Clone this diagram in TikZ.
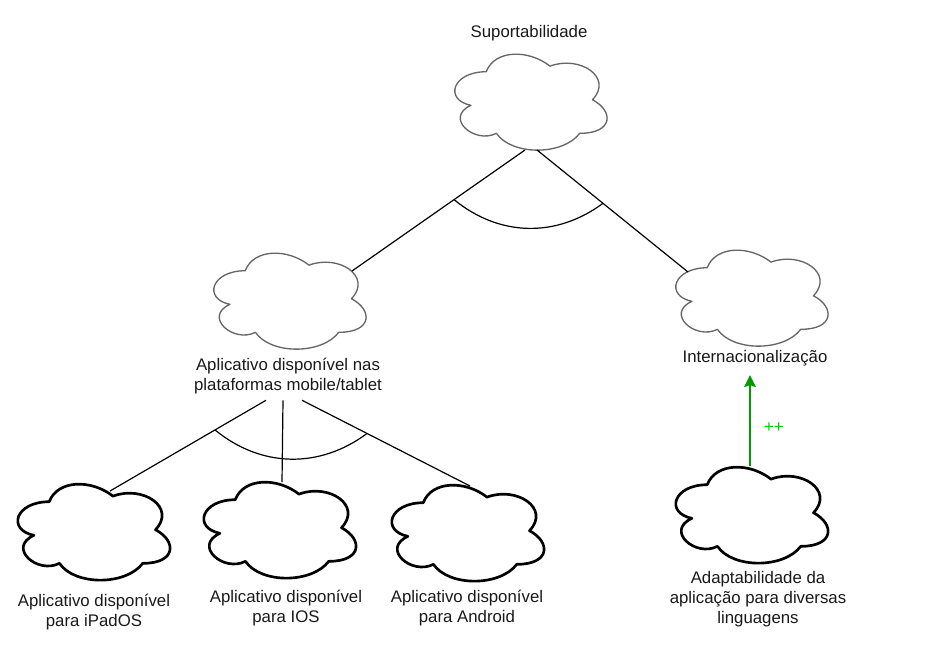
\documentclass[tikz,border=0pt]{standalone}
\usepackage{fontspec}
\setmainfont{Liberation Sans}
\usepackage{xcolor}
\usepackage{tikz}
\usetikzlibrary{arrows.meta,positioning,calc}
\definecolor{contrib}{HTML}{009900}
\definecolor{contribtxt}{HTML}{00CC00}
\tikzstyle{goal}=[rectangle, minimum width=127.5pt, minimum height=84pt, inner sep=0pt]
\tikzstyle{lbl}=[align=center, inner sep=0pt, font=\fontsize{12.6}{15.1}\selectfont, text=black!90]
\tikzstyle{link}=[line width=0.9pt, black]
\tikzstyle{softcloud}=[draw=black!60, line width=1pt, line join=round]
\tikzstyle{hardcloud}=[draw=black, line width=2pt, line join=round]

\begin{document}
\begin{tikzpicture}[x=0.75pt, y=-0.75pt]
\useasboundingbox (0,0) rectangle (935,664);

% softgoals
\node[goal] (top) at (529,100) {};
\node[goal] (mob) at (288,299) {};
\node[goal] (int) at (750,296) {};
\node[goal] (ipad) at (92,530) {};
\node[goal] (ios) at (278,528) {};
\node[goal] (andr) at (466,531) {};
\node[goal] (adapt) at (750,513) {};

% cloud outlines
\foreach \n/\s in {top/softcloud, mob/softcloud, int/softcloud,
                   ipad/hardcloud, ios/hardcloud, andr/hardcloud, adapt/hardcloud} {
  \draw[\s, shift={(\n.north west)}, x=127.5pt, y=-84pt]
    (0.25,0.25) .. controls (0.05,0.25) and (0,0.5) .. (0.16,0.55)
    .. controls (0,0.66) and (0.18,0.9) .. (0.31,0.8)
    .. controls (0.4,1) and (0.7,1) .. (0.8,0.8)
    .. controls (1,0.8) and (1,0.6) .. (0.875,0.5)
    .. controls (1,0.3) and (0.8,0.1) .. (0.625,0.2)
    .. controls (0.5,0.05) and (0.3,0.05) .. (0.25,0.25) -- cycle;
}

% labels
\node[lbl] (toptxt) at (529,33) {Suportabilidade};
\node[lbl] (mobtxt) at (288,376) {Aplicativo disponível nas\\plataformas mobile/tablet};
\node[lbl] (inttxt) at (755,358) {Internacionalização};
\node[lbl] (ipadtxt) at (94,612) {Aplicativo disponível\\para iPadOS};
\node[lbl] (iostxt) at (286,608) {Aplicativo disponível\\para IOS};
\node[lbl] (andrtxt) at (467,608) {Aplicativo disponível\\para Android};
\node[lbl] (adapttxt) at (758,599) {Adaptabilidade da\\aplicação para diversas\\linguagens};

% and-decomposition of Suportabilidade
\coordinate (t1) at ($(top.center)+(-4,50)$);
\coordinate (t2) at ($(top.center)+(8,50)$);
\coordinate (m1) at ($(mob.center)+(64,-28)$);
\coordinate (i1) at ($(int.center)+(-62,-24)$);
\draw[link] (t1) -- (m1);
\draw[link] (t2) -- (i1);
\draw[link] ($(t1)!0.41!(m1)$) to[bend right=38] ($(t2)!0.437!(i1)$);

% and-decomposition of mobile/tablet
\coordinate (b1) at ($(mobtxt.south)+(-22,6)$);
\coordinate (b2) at ($(mobtxt.south)+(-5,6)$);
\coordinate (b3) at ($(mobtxt.south)+(14,6)$);
\coordinate (p1) at ($(ipad.center)+(18,-39)$);
\coordinate (p2) at ($(ios.center)+(4,-46)$);
\coordinate (p3) at ($(andr.center)+(4,-45)$);
\draw[link] (b1) -- (p1);
\draw[link] (b2) -- (p2);
\draw[link] (b3) -- (p3);
\draw[link] ($(b1)!0.327!(p1)$) to[bend right=38] ($(b3)!0.387!(p3)$);

% contribution
\coordinate (a1) at ($(adapt.center)+(0,-47)$);
\coordinate (a2) at ($(a1 |- inttxt.south)+(0,9)$);
\draw[contrib, line width=1pt, -{Stealth[length=9pt, width=9pt, inset=1.5pt]}]
  (a1) -- (a2) node[lbl, pos=0.42, right=10pt, text=contribtxt] {++};
\end{tikzpicture}
\end{document}
